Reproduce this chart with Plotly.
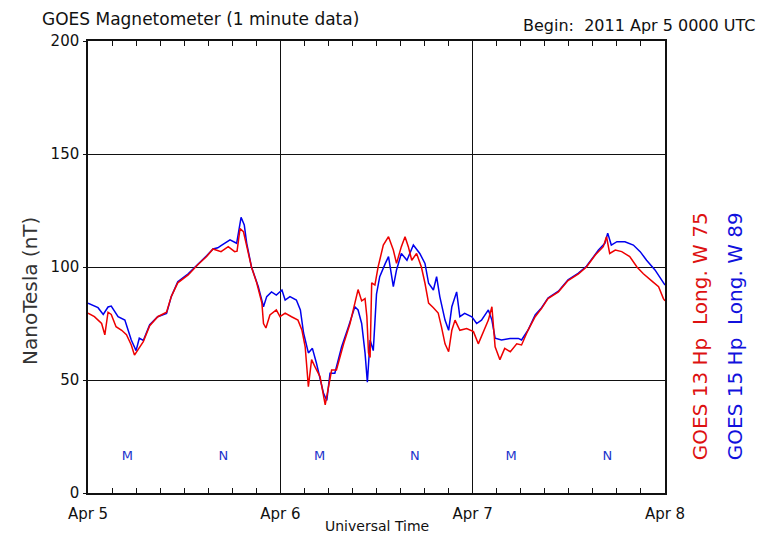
import plotly.graph_objects as go

# ---- data (hours since 2011 Apr 5 0000 UTC, nanotesla) ----
g13_hours = [0.0, 0.8, 1.7, 2.1, 2.5, 2.9, 3.5, 4.2, 4.8, 5.4, 5.8, 6.2, 6.9, 7.7, 8.7, 9.8,
             10.4, 11.2, 12.5, 13.7, 14.8, 15.6, 16.6, 17.5, 18.3, 18.6, 18.97, 19.4, 19.8,
             20.4, 21.05, 21.7, 21.9, 22.2, 22.7, 23.5, 23.96, 24.6, 25.4, 26.2, 26.7, 27.1,
             27.5, 27.9, 28.3, 28.95, 29.6, 30.0, 30.4, 31.0, 31.9, 32.7, 33.5, 33.7, 34.15,
             34.57, 34.8, 35.0, 35.2, 35.4, 35.8, 36.2, 36.85, 37.5, 38.1, 38.5, 39.1, 39.56,
             39.97, 40.4, 41.0, 41.6, 42.05, 42.5, 43.1, 43.7, 44.1, 44.55, 45.0, 45.4, 45.8,
             46.4, 47.25, 48.1, 48.7, 49.3, 49.96, 50.4, 50.8, 51.4, 52.0, 52.7, 53.5, 54.1,
             54.9, 55.8, 56.6, 57.4, 58.7, 59.9, 61.2, 62.2, 63.3, 64.3, 64.7, 65.1, 65.8,
             66.6, 67.6, 68.5, 69.3, 70.3, 71.2, 71.8, 72.0]
g13_values = [79.6, 78, 75, 70, 80, 79, 73.6, 72, 70, 65.5, 61, 63, 67, 74, 78, 80,
              87, 93, 96.5, 101, 104.6, 108, 106.8, 109, 106.8, 107, 117, 115.6, 109,
              100, 93, 84, 75, 73, 78.8, 81, 78, 79.6, 78, 76.5, 72, 64.7,
              47, 59, 56, 51.5, 39, 47, 54.4, 54.4, 66, 75, 87, 90, 85,
              86, 78, 62, 60, 93, 92, 100, 109.7, 113.4, 107.5, 101.6, 109, 113.4,
              109, 103, 106, 100, 92.8, 84, 82, 79.6, 73.6, 66, 62.5, 72, 76.5,
              72, 72.8, 71.4, 66, 70.8, 76.5, 82.4, 64.7, 59, 64, 62.5, 66, 65.5,
              72, 78, 81.7, 86, 89, 94, 97, 100, 105.3, 109, 113.4, 106, 107.5,
              106.8, 104.6, 100, 97, 94, 91.3, 86, 85]

g15_hours = [0.0, 1.25, 1.9, 2.5, 2.9, 3.75, 4.6, 5.4, 6.0, 6.4, 6.9, 7.7, 8.7, 9.8, 10.4,
             11.2, 12.5, 13.7, 14.8, 15.6, 16.2, 16.6, 17.2, 17.72, 18.55, 19.1, 19.5, 19.8,
             20.4, 21.25, 21.9, 22.3, 22.9, 23.5, 24.2, 24.6, 25.2, 26.0, 26.5, 26.9, 27.5,
             28.0, 28.5, 29.4, 29.8, 30.2, 30.8, 31.65, 32.5, 33.3, 33.7, 34.15, 34.57, 34.86,
             35.2, 35.6, 36.0, 36.4, 37.1, 37.5, 38.1, 38.5, 39.1, 39.8, 40.6, 41.4, 42.05,
             42.5, 43.1, 43.5, 43.9, 44.55, 45.0, 45.4, 46.0, 46.4, 47.0, 47.9, 48.5, 49.1,
             49.96, 50.4, 50.8, 51.6, 52.7, 53.7, 54.1, 54.9, 55.8, 56.6, 57.4, 58.7, 59.9,
             61.2, 62.2, 63.0, 63.7, 64.5, 64.85, 65.3, 66.0, 67.0, 68.05, 68.9, 69.7, 70.75,
             71.8, 72.0]
g15_values = [84, 82, 79, 82.3, 82.7, 78, 76.5, 67.7, 63, 68.5, 67.5, 74.5, 78, 79.5, 87,
              93.5, 97, 101, 105, 108, 108.5, 109.5, 111, 112, 110.5, 122, 118.6, 110.6,
              100, 91.3, 82.4, 86.9, 89, 87.6, 89.8, 85.4, 86.9, 85.4, 81, 70.8, 62,
              64, 57.5, 44, 41, 53, 53, 64.7, 73.6, 82.4, 81, 75, 62, 49,
              67.7, 63, 88, 95.7, 101.6, 104.6, 91.3, 98.7, 106, 103, 109.7, 106, 101.6,
              92.8, 89.8, 95.7, 86.9, 76.5, 72, 82.4, 89, 78, 79.5, 78, 75, 76.5,
              81, 76.5, 68.5, 67.7, 68.4, 68.4, 67.7, 72, 78.8, 82, 86.3, 89.3, 94.3,
              97.3, 100.3, 104, 107.5, 110.5, 115, 109.7, 111.2, 111.2, 109.7, 106.8, 103, 98.7,
              92.8, 92]

mn_hours = [4.9, 16.9, 28.9, 40.8, 52.8, 64.8]
mn_labels = ["M", "N", "M", "N", "M", "N"]
mn_level = 16

day_ticks = [0, 24, 48, 72]
day_labels = ["Apr 5", "Apr 6", "Apr 7", "Apr 8"]
y_ticks = [0, 50, 100, 150, 200]

RED = "#ee0000"
BLUE = "#0000ee"
FONT = "DejaVu Sans"

fig = go.Figure()
fig.add_trace(go.Scatter(x=g15_hours, y=g15_values, mode="lines",
                         line=dict(color=BLUE, width=1.5), name="GOES 15"))
fig.add_trace(go.Scatter(x=g13_hours, y=g13_values, mode="lines",
                         line=dict(color=RED, width=1.5), name="GOES 13"))
fig.add_trace(go.Scatter(x=mn_hours, y=[mn_level] * len(mn_hours), mode="text",
                         text=mn_labels, textfont=dict(color="#2233cc", size=13, family=FONT),
                         hoverinfo="skip"))

fig.update_layout(
    width=760, height=535,
    margin=dict(l=88, r=95, t=41, b=42),
    paper_bgcolor="white", plot_bgcolor="white",
    showlegend=False,
    font=dict(family=FONT, color="#111111", size=15),
    xaxis=dict(range=[0, 72], tickvals=day_ticks, ticktext=day_labels,
               showgrid=True, gridcolor="#111111", gridwidth=1.2,
               showline=True, linecolor="#111111", linewidth=1.5, mirror="ticks",
               ticks="inside", ticklen=5, tickcolor="#111111",
               minor=dict(dtick=3, tick0=0, ticks="inside", ticklen=5, tickcolor="#111111",
                          showgrid=False),
               zeroline=False, ticklabelstandoff=6, tickfont=dict(size=15)),
    yaxis=dict(range=[0, 200], tickvals=y_ticks,
               showgrid=True, gridcolor="#111111", gridwidth=1.2,
               showline=True, linecolor="#111111", linewidth=1.5, mirror=True,
               ticks="outside", ticklen=3, tickcolor="#111111",
               zeroline=False, ticklabelstandoff=1, tickfont=dict(size=15)),
)

ann = [
    dict(text="GOES Magnetometer (1 minute data)", x=-0.0832, y=1.0487, xanchor="left",
         yanchor="middle", font=dict(size=17)),
    dict(text="Begin:  2011 Apr 5 0000 UTC", x=1.1594, y=1.0332, xanchor="right",
         yanchor="middle", font=dict(size=16)),
    dict(text="NanoTesla (nT)", x=-0.1005, y=0.447, textangle=-90, xanchor="center",
         yanchor="middle", font=dict(size=20, color="#333333")),
    dict(text="Universal Time", x=0.5, y=-0.073, xanchor="center", yanchor="middle",
         font=dict(size=14)),
    dict(text="GOES 13 Hp  Long. W 75", x=1.0607, y=0.347, textangle=-90,
         xanchor="center", yanchor="middle", font=dict(size=20, color="#dd1111")),
    dict(text="GOES 15 Hp  Long. W 89", x=1.1213, y=0.347, textangle=-90,
         xanchor="center", yanchor="middle", font=dict(size=20, color="#1111dd")),
]
for a in ann:
    a.update(xref="paper", yref="paper", showarrow=False)
    fig.add_annotation(**a)

fig.write_html("out.html")
